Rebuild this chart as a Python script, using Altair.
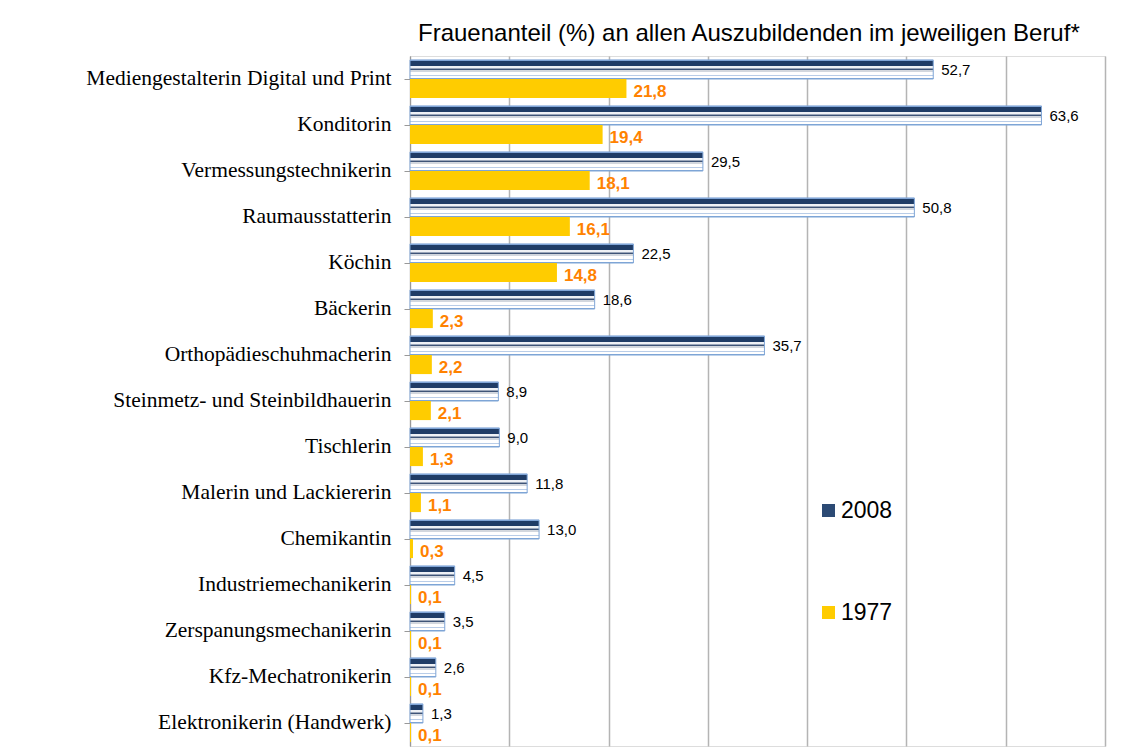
import altair as alt
import pandas as pd

berufe = [
    "Mediengestalterin Digital und Print",
    "Konditorin",
    "Vermessungstechnikerin",
    "Raumausstatterin",
    "Köchin",
    "Bäckerin",
    "Orthopädieschuhmacherin",
    "Steinmetz- und Steinbildhauerin",
    "Tischlerin",
    "Malerin und Lackiererin",
    "Chemikantin",
    "Industriemechanikerin",
    "Zerspanungsmechanikerin",
    "Kfz-Mechatronikerin",
    "Elektronikerin (Handwerk)",
]
werte_2008 = [52.7, 63.6, 29.5, 50.8, 22.5, 18.6, 35.7, 8.9, 9.0, 11.8, 13.0, 4.5, 3.5, 2.6, 1.3]
werte_1977 = [21.8, 19.4, 18.1, 16.1, 14.8, 2.3, 2.2, 2.1, 1.3, 1.1, 0.3, 0.1, 0.1, 0.1, 0.1]
jahre = ["2008", "1977"]
x_ticks = [0, 10, 20, 30, 40, 50, 60, 70]

TITLE = "Frauenanteil (%) an allen Auszubildenden im jeweiligen Beruf*"


def fmt(v):
    return f"{v:.1f}".replace(".", ",")


rows = []
for b, v08, v77 in zip(berufe, werte_2008, werte_1977):
    rows.append({"beruf": b, "jahr": "2008", "wert": v08, "label": fmt(v08)})
    rows.append({"beruf": b, "jahr": "1977", "wert": v77, "label": fmt(v77)})
df = pd.DataFrame(rows)

y_enc = alt.Y(
    "beruf:N",
    sort=berufe,
    title=None,
    scale=alt.Scale(paddingInner=0.17, paddingOuter=0.085),
    axis=alt.Axis(
        labelFont="Liberation Serif",
        labelFontSize=21.5,
        labelColor="black",
        labelPadding=13,
        labelLimit=400,
        tickSize=6,
        tickColor="#999999",
        domainColor="#999999",
        minExtent=397,
        maxExtent=397,
    ),
)
yoff_enc = alt.YOffset(
    "jahr:N", sort=jahre, scale=alt.Scale(domain=jahre, paddingInner=0, paddingOuter=0)
)
x_enc = alt.X(
    "wert:Q",
    title=None,
    scale=alt.Scale(domain=[0, 70], nice=False),
    axis=alt.Axis(
        values=x_ticks,
        labels=False,
        ticks=False,
        domain=False,
        grid=True,
        gridColor="#b4b4b4",
        gridWidth=1.5,
    ),
)

base = alt.Chart(df).encode(y=y_enc, yOffset=yoff_enc, x=x_enc)

border = "#7fa5d6"
stripes = [
    (0.00, border), (0.07, border),
    (0.07, "#1f3c66"), (0.33, "#1f3c66"),
    (0.33, "#eef1f5"), (0.40, "#eef1f5"),
    (0.40, "#9aa6ba"), (0.47, "#9aa6ba"),
    (0.47, "#3e5477"), (0.54, "#3e5477"),
    (0.54, "#d2d7de"), (0.64, "#d2d7de"),
    (0.64, "#ffffff"), (0.78, "#ffffff"),
    (0.78, "#b9cde8"), (0.86, "#b9cde8"),
    (0.86, "#ffffff"), (0.93, "#ffffff"),
    (0.93, border), (1.00, border),
]
gradient = alt.LinearGradient(
    gradient="linear",
    stops=[alt.GradientStop(color=c, offset=o) for o, c in stripes],
    x1=0, x2=0, y1=0, y2=1,
)

bars08 = (
    base.transform_filter(alt.datum.jahr == "2008")
    .mark_bar(fill=gradient, stroke=border, strokeWidth=1)
)
bars77 = (
    base.transform_filter(alt.datum.jahr == "1977")
    .mark_bar()
    .encode(
        color=alt.Color(
            "jahr:N",
            scale=alt.Scale(domain=jahre, range=["#2c4a74", "#ffcc00"]),
            legend=alt.Legend(
                title=None,
                orient="none",
                legendX=407,
                legendY=443,
                padding=0,
                direction="vertical",
                symbolType="square",
                symbolSize=169,
                symbolOpacity=1,
                symbolStrokeWidth=0,
                labelFont="Liberation Sans",
                labelFontSize=23,
                labelColor="black",
                labelOffset=1,
                rowPadding=78,
            ),
        )
    )
)
text08 = (
    base.transform_filter(alt.datum.jahr == "2008")
    .mark_text(align="left", baseline="middle", dx=8, dy=1, font="Liberation Sans",
               fontSize=15, color="black")
    .encode(text="label:N")
)
text77 = (
    base.transform_filter(alt.datum.jahr == "1977")
    .mark_text(align="left", baseline="middle", dx=7, dy=3, font="Liberation Sans",
               fontSize=17, fontWeight="bold", color="#ff8200")
    .encode(text="label:N")
)

chart = (
    alt.layer(bars08, bars77, text08, text77)
    .properties(
        width=695,
        height=690,
        padding={"left": 5, "top": 14, "right": 5, "bottom": 5},
        title=alt.TitleParams(
            TITLE,
            font="Liberation Sans",
            fontSize=24,
            fontWeight="normal",
            color="black",
            anchor="start",
            frame="group",
            dx=8,
            offset=10,
        ),
    )
    .configure_view(stroke=None)
    .configure(background="white")
)

chart.save("out.html", embed_options={"renderer": "svg", "actions": False})
